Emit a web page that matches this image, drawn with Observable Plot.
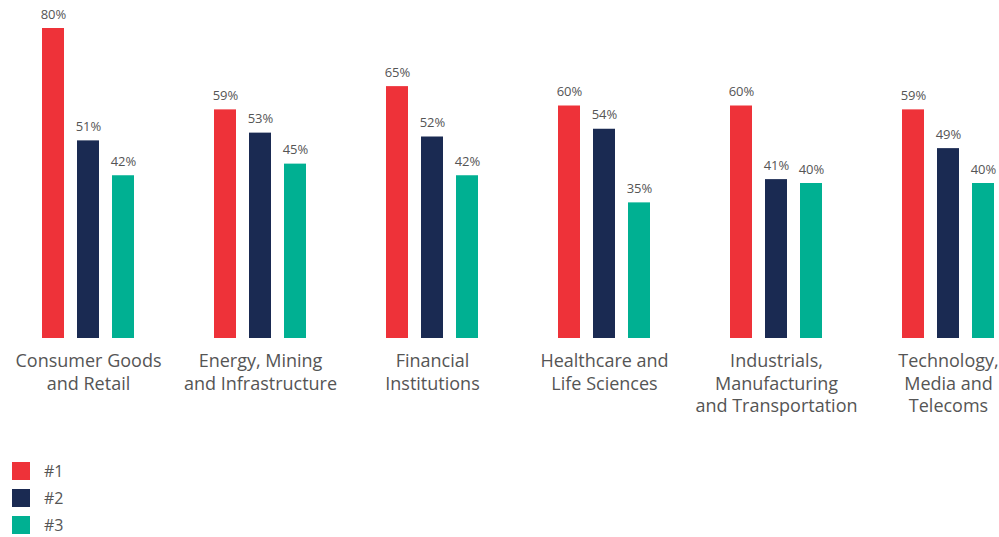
<!DOCTYPE html>
<html>
<head>
<meta charset="utf-8">
<script src="https://cdn.jsdelivr.net/npm/d3@7"></script>
<script src="https://cdn.jsdelivr.net/npm/@observablehq/plot@0.6"></script>
<style>
  html, body { margin: 0; padding: 0; background: #fff; overflow: hidden; }
  body { width: 999px; height: 537px; font-family: "Open Sans", sans-serif; }
  #legend { position: absolute; left: 12px; top: 462px; }
  .item { display: flex; align-items: center; height: 18px; line-height: 18px; margin-bottom: 9px; font-size: 16px; color: #555; }
  .sw { width: 18px; height: 18px; margin-right: 14px; }
</style>
</head>
<body>
<div id="chart"></div>
<div id="legend"></div>
<script>
const categories = [
  "Consumer Goods\nand Retail",
  "Energy, Mining\nand Infrastructure",
  "Financial\nInstitutions",
  "Healthcare and\nLife Sciences",
  "Industrials,\nManufacturing\nand Transportation",
  "Technology,\nMedia and\nTelecoms"
];
const seriesNames = ["#1", "#2", "#3"];
const colors = ["#ee3239", "#1a2a52", "#00b092"];
const rank1 = [80, 59, 65, 60, 60, 59];
const rank2 = [51, 53, 52, 54, 41, 49];
const rank3 = [42, 45, 42, 35, 40, 40];

const seriesValues = [rank1, rank2, rank3];
const data = [];
categories.forEach((c, i) => {
  seriesNames.forEach((s, j) => {
    data.push({category: c, series: s, value: seriesValues[j][i]});
  });
});

const chart = Plot.plot({
  width: 999,
  height: 430,
  marginTop: 28,
  marginBottom: 92,
  marginLeft: 37,
  marginRight: 0,
  style: {fontFamily: "'Open Sans', sans-serif", color: "#555"},
  fx: {domain: categories, paddingInner: 0.42, paddingOuter: 0, label: null, axis: null},
  x: {domain: seriesNames, paddingInner: 0.38, paddingOuter: 0.1, axis: null},
  y: {domain: [0, 80], axis: null},
  color: {domain: seriesNames, range: colors},
  marks: [
    Plot.barY(data, {fx: "category", x: "series", y: "value", fill: "series"}),
    Plot.text(data, {fx: "category", x: "series", y: "value", text: d => d.value + "%",
      dy: -14, fill: "#555", fontSize: 13}),
    Plot.axisFx({anchor: "bottom", tickSize: 0, tickPadding: 13, fontSize: 18, lineHeight: 1.25, fill: "#555",
      tickFormat: d => d, label: null})
  ]
});
document.getElementById("chart").appendChild(chart);

const legend = document.getElementById("legend");
seriesNames.forEach((s, i) => {
  const it = document.createElement("div");
  it.className = "item";
  const sw = document.createElement("div");
  sw.className = "sw";
  sw.style.background = colors[i];
  const t = document.createElement("span");
  t.textContent = s;
  it.appendChild(sw);
  it.appendChild(t);
  legend.appendChild(it);
});
</script>
</body>
</html>
